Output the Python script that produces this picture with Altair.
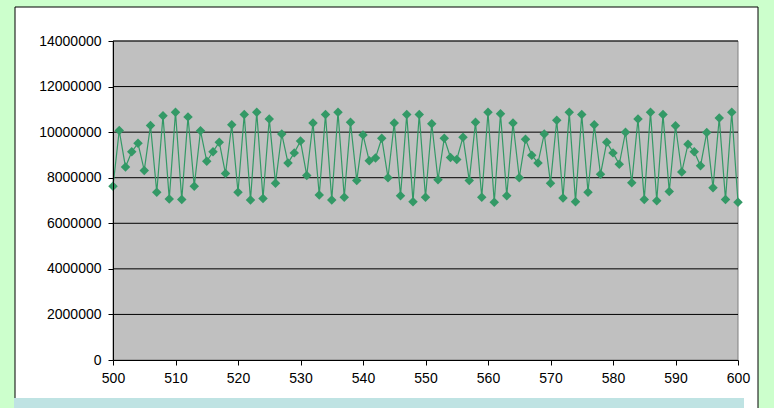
import altair as alt
import pandas as pd

# Series: sample index and measured value
x_values = list(range(500, 601))
y_values = [
    7630000, 10070000, 8470000, 9140000, 9510000, 8320000, 10290000, 7360000, 10720000, 7070000,
    10870000, 7040000, 10670000, 7630000, 10060000, 8720000, 9140000, 9560000, 8180000, 10320000,
    7360000, 10770000, 7020000, 10870000, 7090000, 10580000, 7760000, 9920000, 8650000, 9090000,
    9610000, 8100000, 10400000, 7240000, 10770000, 7020000, 10870000, 7140000, 10430000, 7880000,
    9880000, 8740000, 8870000, 9730000, 8000000, 10400000, 7210000, 10770000, 6950000, 10770000,
    7140000, 10370000, 7910000, 9730000, 8890000, 8800000, 9780000, 7880000, 10430000, 7140000,
    10870000, 6920000, 10810000, 7210000, 10400000, 8000000, 9690000, 8990000, 8650000, 9920000,
    7760000, 10520000, 7110000, 10870000, 6950000, 10770000, 7360000, 10320000, 8150000, 9560000,
    9090000, 8590000, 10000000, 7780000, 10580000, 7040000, 10870000, 6990000, 10770000, 7400000,
    10280000, 8250000, 9470000, 9140000, 8520000, 9980000, 7560000, 10620000, 7040000, 10870000,
    6920000,
]
y_ticks = [0, 2000000, 4000000, 6000000, 8000000, 10000000, 12000000, 14000000]
x_ticks = list(range(500, 601, 10))

W, H = 625, 319
LEFT, TOP, RIGHT, BOTTOM = 113, 41, 36, 48

series = pd.DataFrame({"x": x_values, "y": y_values})
grid = pd.DataFrame({"y": y_ticks[1:]})
one = pd.DataFrame({"k": [0]})

SERIES_COLOR = "#339966"
FONT = "Liberation Sans"

x_scale = alt.Scale(domain=[500, 600], nice=False, zero=False)
y_scale = alt.Scale(domain=[0, 14000000], nice=False)

x_axis = alt.Axis(values=x_ticks, grid=False, zindex=1, domainColor="black", tickColor="black",
                  tickSize=5, labelFont=FONT, labelFontSize=14, labelColor="black",
                  labelPadding=6, title=None, format="d", labelFlush=False)
y_axis = alt.Axis(values=y_ticks, grid=False, zindex=1, domainColor="black", tickColor="black",
                  tickSize=5, labelFont=FONT, labelFontSize=14, labelColor="black",
                  labelPadding=7, title=None, format="d")

# White chart frame
frame = alt.Chart(one).mark_rect(fill="white", stroke="black", strokeWidth=1).encode(
    x=alt.value(15 - LEFT), x2=alt.value(758 - LEFT),
    y=alt.value(7 - TOP), y2=alt.value(420 - TOP),
)

# Pale strip along the bottom edge
strip = alt.Chart(one).mark_rect(fill="#BFE3E3").encode(
    x=alt.value(14 - LEFT), x2=alt.value(744 - LEFT),
    y=alt.value(398 - TOP), y2=alt.value(420 - TOP),
)

# Grey plot area
plot_bg = alt.Chart(one).mark_rect(fill="#C0C0C0", stroke="#808080", strokeWidth=1).encode(
    x=alt.value(0), x2=alt.value(W), y=alt.value(0), y2=alt.value(H),
)

gridlines = alt.Chart(grid).mark_rule(color="black", strokeWidth=1).encode(
    y=alt.Y("y:Q", scale=y_scale, axis=y_axis),
    x=alt.value(0), x2=alt.value(W),
)

line = alt.Chart(series).mark_line(color=SERIES_COLOR, strokeWidth=1.2).encode(
    x=alt.X("x:Q", scale=x_scale, axis=x_axis),
    y=alt.Y("y:Q", scale=y_scale, axis=y_axis),
)

points = alt.Chart(series).mark_point(shape="diamond", filled=True, size=90,
                                      color=SERIES_COLOR, opacity=1).encode(
    x=alt.X("x:Q", scale=x_scale, axis=x_axis),
    y=alt.Y("y:Q", scale=y_scale, axis=y_axis),
)

chart = alt.layer(frame, strip, plot_bg, gridlines, line, points).properties(
    width=W, height=H,
    padding={"left": LEFT, "top": TOP, "right": RIGHT, "bottom": BOTTOM},
    autosize=alt.AutoSizeParams(type="none"),
    background="#CCFFCC",
).configure_view(stroke=None)

chart.save("out.html", embed_options={"renderer": "svg", "actions": False})
